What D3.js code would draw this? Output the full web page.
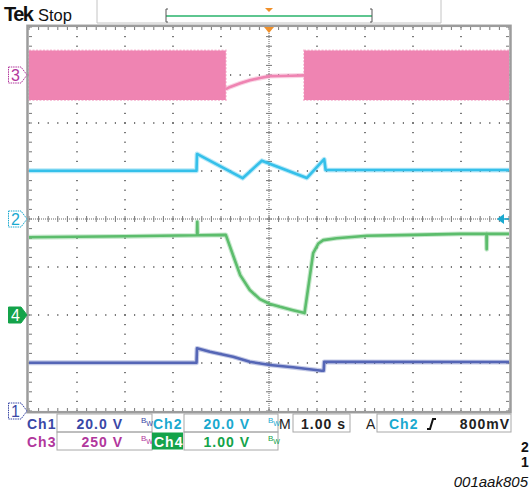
<!DOCTYPE html>
<html><head><meta charset="utf-8">
<script src="https://cdn.jsdelivr.net/npm/d3@7"></script>
<style>html,body{margin:0;padding:0;background:#fff;}svg{display:block;}</style>
</head><body>
<script>
// ---- Data (time in s, values in V) ----
const timeDomain = [-5, 5];            // 1.00 s/div, 10 divisions
const channels = ["Ch1", "Ch2", "Ch3", "Ch4"];
const voltsPerDiv = [20, 20, 250, 1];  // Ch1..Ch4
const groundDiv = [-4, 0, 3, -2];      // ground marker position in divisions from centre

// Ch3 (mains, pink): AC envelope segments + recovery curve
const ch3BandTimesA = [-5, -0.90];
const ch3BandTimesB = [0.73, 5];
const ch3BandHigh = [127, 127];
const ch3BandLow = [-130, -130];
const ch3CurveT = [-0.90, -0.81, -0.60, -0.40, -0.19, 0.02, 0.23, 0.45, 0.73];
const ch3CurveV = [-74, -62, -43, -27, -16, -6, -5, -4, -2];

// Ch2 (cyan)
const ch2T = [-5, -1.51, -1.50, -0.55, -0.15, 0.79, 1.15, 1.18, 5];
const ch2V = [20.1, 20.1, 27.1, 17.0, 24.3, 17.1, 24.9, 20.4, 20.4];

// Ch4 (green)
const ch4T = [-5, -3.0, -1.50, -1.494, -1.488, -0.90, -0.74, -0.60, -0.40, -0.19, 0.02, 0.23, 0.50, 0.70, 0.74, 0.85, 0.92, 1.03, 1.13, 1.41, 2.04, 3.01, 3.98, 4.53, 4.535, 4.54, 5];
const ch4V = [1.62, 1.64, 1.66, 1.94, 1.66, 1.67, 1.22, 0.83, 0.52, 0.33, 0.23, 0.17, 0.10, 0.05, 0.04, 0.80, 1.29, 1.49, 1.56, 1.60, 1.65, 1.67, 1.69, 1.69, 1.37, 1.69, 1.69];

// Ch1 (blue)
const ch1T = [-5, -1.51, -1.50, -1.23, -0.75, -0.40, 0.02, 0.50, 1.10, 1.14, 1.15, 5];
const ch1V = [20.1, 20.1, 26.1, 24.7, 22.6, 20.5, 19.2, 18.2, 16.8, 16.8, 20.5, 20.4];

// Readout labels
const row1Labels = ["Ch1", "20.0 V", "Ch2", "20.0 V", "M", "1.00 s", "A", "Ch2", "800mV"];
const row2Labels = ["Ch3", "250 V", "Ch4", "1.00 V"];

// ---- Drawing ----
const W = 531, H = 490;
const X0 = 29, X1 = 509, Y0 = 27, Y1 = 411;
const col = {
  ch1: "#5566b6", ch2: "#35c0ea", ch3: "#ef84b2", ch4: "#5cbd6c",
  ch1t: "#3a48a6", ch2t: "#1aa9cf", ch3t: "#b1379c", ch4t: "#14a34a",
  orange: "#f0902a", frame: "#9c9c9c"
};
const font = "Liberation Sans, Arial, sans-serif";
const svg = d3.select("body").append("svg").attr("width", W).attr("height", H);
const x = d3.scaleLinear().domain(timeDomain).range([X0, X1]);
const yDiv = d3.scaleLinear().domain([-4, 4]).range([Y1, Y0]);
const yCh = i => v => yDiv(groundDiv[i] + v / voltsPerDiv[i]);
const yc = channels.map((c, i) => yCh(i));
const dx = (X1 - X0) / 50, dy = (Y1 - Y0) / 40;

// Header
svg.append("text").attr("x", 4).attr("y", 21).attr("font-family", font)
  .attr("font-weight", "bold").attr("font-size", 20).attr("letter-spacing", -1.5).attr("fill", "#111").text("Tek");
svg.append("text").attr("x", 38).attr("y", 21).attr("font-family", font)
  .attr("font-size", 16.5).attr("fill", "#111").text("Stop");
svg.append("path").attr("d", "M97,0V23H441V0").attr("fill", "none").attr("stroke", "#c4c4c4").attr("stroke-width", 1);
svg.append("line").attr("x1", 166).attr("x2", 372).attr("y1", 16).attr("y2", 16).attr("stroke", "#5ec690").attr("stroke-width", 2);
svg.append("path").attr("d", "M168,9H166V22H168M370,9H372V22H370").attr("fill", "none").attr("stroke", "#555").attr("stroke-width", 1);
svg.append("path").attr("d", `M${x(0)-4},8L${x(0)+4},8L${x(0)},12Z`).attr("fill", col.orange);

// Grid
const g = svg.append("g");
for (let i = 1; i < 10; i++) {
  if (i === 5) continue;
  const xx = X0 + i * 5 * dx;
  for (let k = 0; k <= 40; k++) g.append("rect").attr("x", xx - 0.6).attr("y", Y0 + k * dy - 0.6).attr("width", 1.2).attr("height", 1.2).attr("fill", "#222");
}
for (let j = 1; j < 8; j++) {
  if (j === 4) continue;
  const yy = Y0 + j * 5 * dy;
  for (let k = 0; k <= 50; k++) g.append("rect").attr("x", X0 + k * dx - 0.6).attr("y", yy - 0.6).attr("width", 1.2).attr("height", 1.2).attr("fill", "#222");
}
const cx = x(0), cy = yDiv(0);
g.append("line").attr("x1", X0).attr("x2", X1).attr("y1", cy).attr("y2", cy).attr("stroke", "#666").attr("stroke-width", 1).attr("stroke-dasharray", "1,1");
g.append("line").attr("x1", cx).attr("x2", cx).attr("y1", Y0).attr("y2", Y1).attr("stroke", "#666").attr("stroke-width", 1).attr("stroke-dasharray", "1,1");
for (let k = 0; k <= 50; k++) {
  const xx = X0 + k * dx;
  g.append("line").attr("x1", xx).attr("x2", xx).attr("y1", cy - 3).attr("y2", cy + 3).attr("stroke", "#777").attr("stroke-width", 1);
  g.append("line").attr("x1", xx).attr("x2", xx).attr("y1", Y0).attr("y2", Y0 + 3).attr("stroke", "#777").attr("stroke-width", 1);
  g.append("line").attr("x1", xx).attr("x2", xx).attr("y1", Y1 - 3).attr("y2", Y1).attr("stroke", "#777").attr("stroke-width", 1);
}
for (let k = 0; k <= 40; k++) {
  const yy = Y0 + k * dy;
  g.append("line").attr("x1", cx - 3).attr("x2", cx + 3).attr("y1", yy).attr("y2", yy).attr("stroke", "#777").attr("stroke-width", 1);
  g.append("line").attr("x1", X0).attr("x2", X0 + 3).attr("y1", yy).attr("y2", yy).attr("stroke", "#777").attr("stroke-width", 1);
  g.append("line").attr("x1", X1 - 3).attr("x2", X1).attr("y1", yy).attr("y2", yy).attr("stroke", "#777").attr("stroke-width", 1);
}

// Traces
const tr = svg.append("g");
const area3 = d3.area().x(d => x(d[0])).y0(d => yc[2](d[2])).y1(d => yc[2](d[1]));
[ch3BandTimesA, ch3BandTimesB].forEach(ts => {
  const pts = ts.map((t, i) => [t, ch3BandHigh[i], ch3BandLow[i]]);
  tr.append("path").attr("d", area3(pts)).attr("fill", col.ch3).attr("stroke", col.ch3).attr("stroke-width", 2).attr("stroke-opacity", 0.5).attr("stroke-dasharray", "2,1.5");
});
function trace(ts, vs, i, color) {
  const line = d3.line().x(d => x(d[0])).y(d => yc[i](d[1]));
  const pts = ts.map((t, k) => [t, vs[k]]);
  tr.append("path").attr("d", line(pts)).attr("fill", "none").attr("stroke", color).attr("stroke-width", 4.8).attr("stroke-opacity", 0.35).attr("stroke-linejoin", "round");
  tr.append("path").attr("d", line(pts)).attr("fill", "none").attr("stroke", color).attr("stroke-width", 2.6).attr("stroke-linejoin", "round");
}
trace(ch3CurveT, ch3CurveV, 2, col.ch3);
trace(ch2T, ch2V, 1, col.ch2);
trace(ch4T, ch4V, 3, col.ch4);
trace(ch1T, ch1V, 0, col.ch1);

// Frame
svg.append("rect").attr("x", X0 - 1.5).attr("y", Y0 - 1.2).attr("width", X1 - X0 + 3).attr("height", Y1 - Y0 + 2.4)
  .attr("fill", "none").attr("stroke", col.frame).attr("stroke-width", 2.5);

// Trigger markers
svg.append("path").attr("d", `M${cx-5},${Y0}L${cx+5},${Y0}L${cx},${Y0+6}Z`).attr("fill", col.orange);
const ty = yc[1](0);
svg.append("path").attr("d", `M497,${ty}L504,${ty-5}L504,${ty+5}Z`).attr("fill", col.ch2t);
svg.append("line").attr("x1", 503).attr("x2", 509).attr("y1", ty).attr("y2", ty).attr("stroke", col.ch2t).attr("stroke-width", 1.5);

// Ground markers
const markers = [
  {lab: "1", i: 0, c: col.ch1t, fill: "#fff", tc: col.ch1t},
  {lab: "2", i: 1, c: col.ch2t, fill: "#fff", tc: col.ch2t},
  {lab: "3", i: 2, c: col.ch3t, fill: "#fff", tc: col.ch3t},
  {lab: "4", i: 3, c: col.ch4t, fill: col.ch4t, tc: "#fff"}
];
markers.forEach(m => {
  const yy = yc[m.i](0);
  svg.append("path").attr("d", `M8.5,${yy-8}H21L27,${yy}L21,${yy+8}H8.5Z`)
    .attr("fill", m.fill).attr("stroke", m.c).attr("stroke-width", 1).attr("stroke-dasharray", m.fill === "#fff" ? "1.5,0.8" : null);
  svg.append("text").attr("x", 15.5).attr("y", yy + 5.5).attr("text-anchor", "middle").attr("font-family", font)
    .attr("font-size", 16).attr("fill", m.tc).text(m.lab);
});

// Readout boxes
function txt(xp, yp, s, c, anchor) {
  return svg.append("text").attr("x", xp).attr("y", yp).attr("font-family", font).attr("font-size", 14)
    .attr("font-weight", 600).attr("letter-spacing", 1).attr("fill", c).attr("text-anchor", anchor || "start").text(s);
}
function box(x0, y0, x1, y1) {
  svg.append("rect").attr("x", x0).attr("y", y0).attr("width", x1 - x0).attr("height", y1 - y0).attr("fill", "none").attr("stroke", "#a8a8a8").attr("stroke-width", 1);
}
function bw(xp, yp, c) {
  const t = svg.append("text").attr("x", xp).attr("y", yp).attr("font-family", font).attr("font-size", 8).attr("fill", c);
  t.append("tspan").text("B");
  t.append("tspan").attr("dy", 3).attr("font-size", 7).text("W");
}
const r1 = 429, r2 = 447;
box(57, 414, 152, 432); box(184, 414, 278, 432); box(293, 414, 350, 432); box(377, 414, 511, 432);
box(57, 432, 152, 450); box(184, 432, 278, 450);
txt(27, r1, row1Labels[0], col.ch1t);
txt(123, r1, row1Labels[1], col.ch1t, "end");
bw(141, r1 - 6, col.ch1t);
txt(153, r1, row1Labels[2], col.ch2t);
txt(250, r1, row1Labels[3], col.ch2t, "end");
bw(268, r1 - 6, col.ch2t);
svg.append("text").attr("x", 279).attr("y", r1).attr("font-family", font).attr("font-size", 14).attr("fill", "#222").text(row1Labels[4]);
txt(346, r1, row1Labels[5], "#222", "end");
svg.append("text").attr("x", 366).attr("y", r1).attr("font-family", font).attr("font-size", 14).attr("fill", "#222").text(row1Labels[6]);
txt(389, r1, row1Labels[7], col.ch2t);
svg.append("path").attr("d", `M427,${r1}h3l3,-10h3`).attr("fill", "none").attr("stroke", "#111").attr("stroke-width", 2);
txt(510, r1, row1Labels[8], "#222", "end");
txt(27, r2, row2Labels[0], col.ch3t);
txt(123, r2, row2Labels[1], col.ch3t, "end");
bw(141, r2 - 6, col.ch3t);
svg.append("rect").attr("x", 152).attr("y", 432.5).attr("width", 31).attr("height", 17).attr("fill", col.ch4t);
txt(154, r2, row2Labels[2], "#fff");
txt(250, r2, row2Labels[3], col.ch4t, "end");
bw(268, r2 - 6, col.ch4t);

// Right-edge fragments and figure id
svg.append("text").attr("x", 521).attr("y", 452).attr("font-family", font).attr("font-size", 14).attr("font-weight", "bold").attr("fill", "#111").text("2");
svg.append("text").attr("x", 521).attr("y", 467).attr("font-family", font).attr("font-size", 14).attr("font-weight", "bold").attr("fill", "#111").text("1");
svg.append("text").attr("x", 528).attr("y", 487).attr("text-anchor", "end").attr("font-family", font).attr("font-size", 15)
  .attr("font-style", "italic").attr("fill", "#111").text("001aak805");
</script>
</body></html>
